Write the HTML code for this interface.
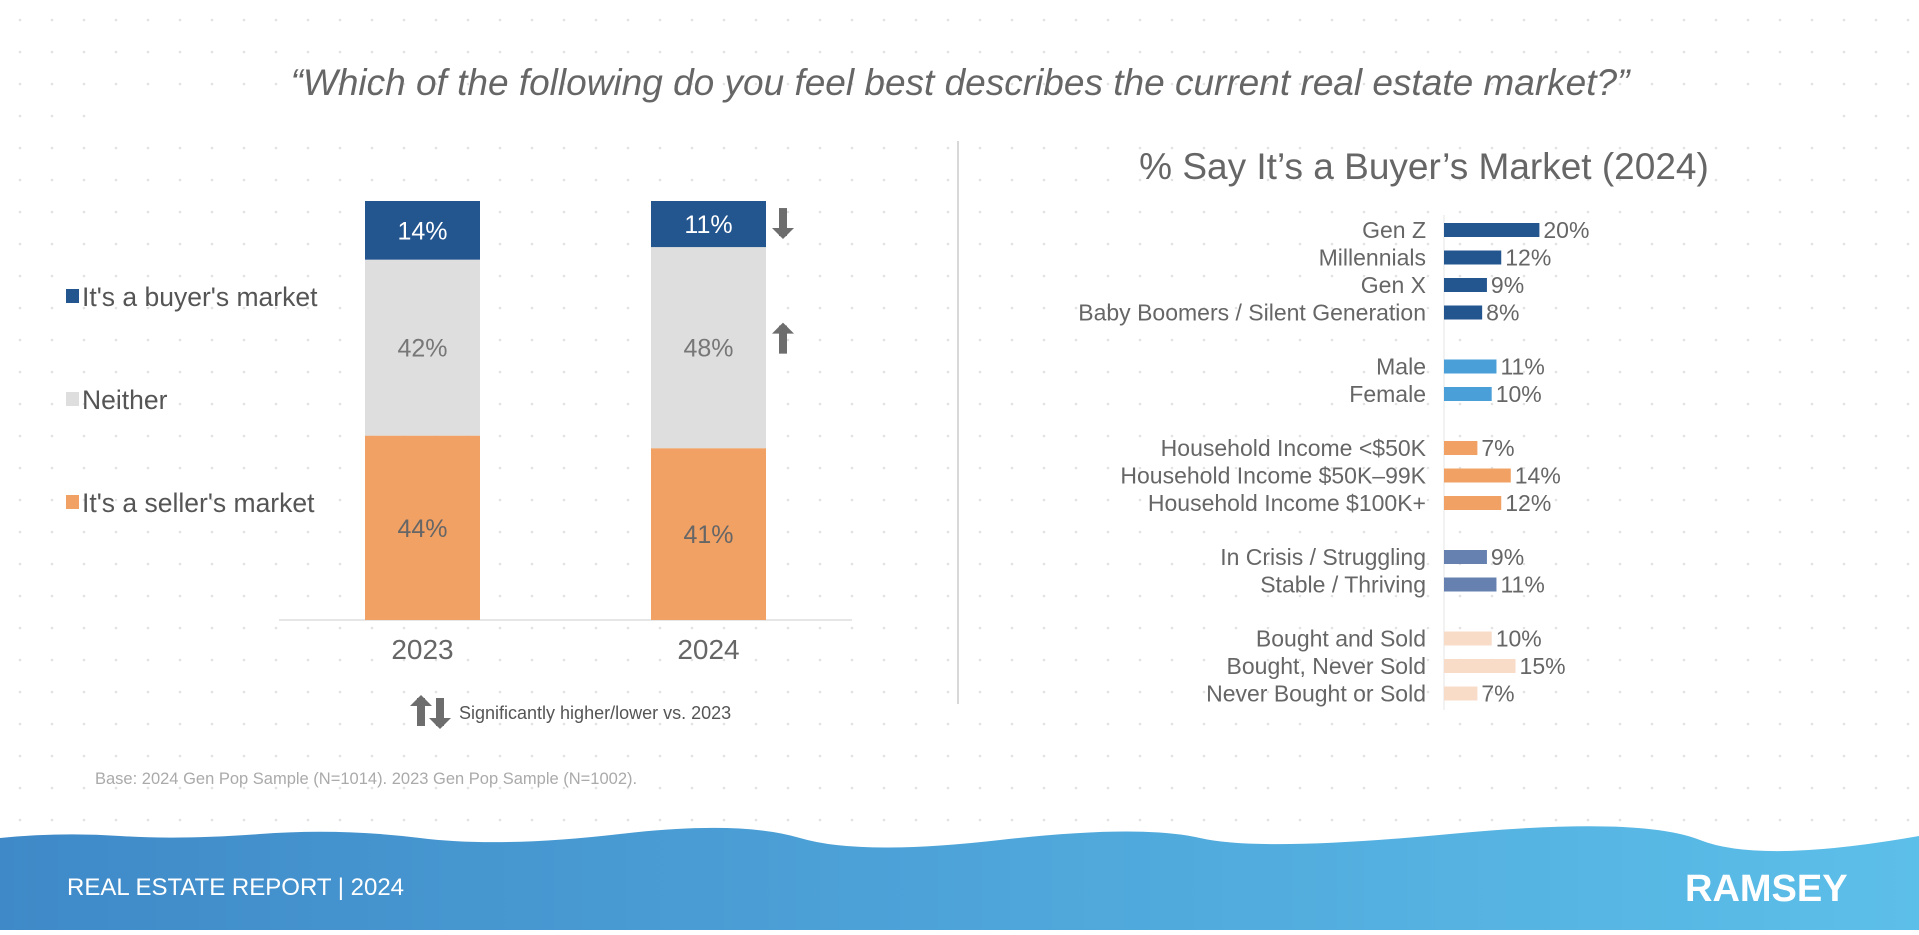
<!DOCTYPE html>
<html><head><meta charset="utf-8">
<style>
html,body{margin:0;padding:0;background:#fff;}
body{width:1919px;height:930px;overflow:hidden;font-family:"Liberation Sans",sans-serif;}
svg text{font-family:"Liberation Sans",sans-serif;}
</style></head>
<body>
<svg id="chart" width="1919" height="930" viewBox="0 0 1919 930">
<defs>
<pattern id="dots" x="0" y="0" width="32" height="32" patternUnits="userSpaceOnUse"><circle cx="20" cy="20" r="1.3" fill="#e2e2e2"/></pattern>
<linearGradient id="foot" x1="0" x2="1" y1="0" y2="0"><stop offset="0" stop-color="#3f89c8"/><stop offset="1" stop-color="#5cbfe9"/></linearGradient>
</defs>
<rect x="0" y="0" width="1919" height="830" fill="url(#dots)"/>
<rect x="90" y="100" width="1750" height="20" fill="#fff"/>
<text x="960" y="95" text-anchor="middle" font-size="37" font-style="italic" fill="#666">“Which of the following do you feel best describes the current real estate market?”</text>
<line x1="958" y1="141" x2="958" y2="704" stroke="#d8d8d8" stroke-width="2"/>
<g id="left"></g>
<g id="right"></g>
<text x="95" y="784" font-size="16.5" fill="#aaa">Base: 2024 Gen Pop Sample (N=1014). 2023 Gen Pop Sample (N=1002).</text>
<path d="M0 838 Q60 832 120 836 T260 834 T420 838 T620 834 T800 838 T1000 840 T1200 838 T1450 834 T1700 840 T1919 836 L1919 930 L0 930 Z" fill="url(#foot)"/>
<text x="67" y="895" font-size="24" fill="#fff">REAL ESTATE REPORT | 2024</text>
<text x="1685" y="901" font-size="38" font-weight="bold" fill="#fff">RAMSEY</text>
</svg>
<script>
const years = ["2023","2024"];
const buyer = [14, 11];
const neither = [42, 48];
const seller = [44, 41];

const groups = ["Gen Z","Millennials","Gen X","Baby Boomers / Silent Generation","Male","Female","Household Income <$50K","Household Income $50K–99K","Household Income $100K+","In Crisis / Struggling","Stable / Thriving","Bought and Sold","Bought, Never Sold","Never Bought or Sold"];
const groupValues = [20,12,9,8,11,10,7,14,12,9,11,10,15,7];
const groupCat = [0,0,0,0,1,1,2,2,2,3,3,4,4,4];

const NS="http://www.w3.org/2000/svg";
function mk(tag, attrs, parent){const e=document.createElementNS(NS,tag);for(const k in attrs)e.setAttribute(k,attrs[k]);parent.appendChild(e);return e;}

const L=document.getElementById('left');
const base=620, top0=201, yS=v=>v*(base-top0)/100;
const xs=i=>365+i*286, bw=115;
mk('line',{x1:279,y1:base,x2:852,y2:base,stroke:'#e6e6e6','stroke-width':2},L);
const segs=[{d:seller,c:'#f2a164',t:'#666',n:'seller'},{d:neither,c:'#dedede',t:'#777',n:'neither'},{d:buyer,c:'#23558f',t:'#fff',n:'buyer'}];
years.forEach((y,i)=>{
  let cum=0;
  segs.forEach(s=>{
    const v=s.d[i];const h=yS(v);const yTop=base-yS(cum)-h;
    const r=mk('rect',{x:xs(i),y:yTop,width:bw,height:h,fill:s.c},L);
    
    
    const t=mk('text',{x:xs(i)+bw/2,y:yTop+h/2+9,'text-anchor':'middle','font-size':25,fill:s.t},L);
    t.textContent=v+'%';
    
    
    cum+=v;
  });
  const yl=mk('text',{x:xs(i)+bw/2,y:659,'text-anchor':'middle','font-size':28,fill:'#666'},L);
  yl.textContent=y;
  
  
});
function arrow(x,yc,dir,name){
  const g=mk('g',{fill:'#6d6d6d'},L);
  
  
  const s=dir==='up'?-1:1;
  mk('rect',{x:x-4,y:yc-14,width:8,height:28},g);
  mk('polygon',{points:`${x-11},${yc+s*6} ${x+11},${yc+s*6} ${x},${yc+s*17}`},g);
}
{const i=1;let yb=base-yS(seller[i])-yS(neither[i])-yS(buyer[i])/2;arrow(783,yb-2,'down','arrow-buyer-2024');
 let yn=base-yS(seller[i])-yS(neither[i])/2;arrow(783,yn-8,'up','arrow-neither-2024');}
arrow(421,712,'up','legend-arrow-up');arrow(440,712,'down','legend-arrow-down');
const sn=mk('text',{x:459,y:719,'font-size':18,fill:'#555'},L);sn.textContent='Significantly higher/lower vs. 2023';

const leg=[["It's a buyer's market",'#23558f',297],["Neither",'#dedede',400],["It's a seller's market",'#f2a164',503]];
leg.forEach((l,i)=>{
  const g=mk('g',{},L);
  
  
  mk('rect',{x:66,y:l[2]-8,width:13,height:14,fill:l[1]},g);
  const t=mk('text',{x:82,y:l[2]+9,'font-size':26.5,fill:'#555'},g);t.textContent=l[0];
});

const R=document.getElementById('right');
const rt=mk('text',{x:1424,y:179,'text-anchor':'middle','font-size':37,fill:'#666'},R);
rt.textContent='% Say It’s a Buyer’s Market (2024)';

const colors=['#23558f','#4a9fd8','#f2a164','#6680b0','#f8dcc8'];
const x0=1444, pxPer=4.77;
mk('line',{x1:x0,y1:215,x2:x0,y2:710,stroke:'#eee','stroke-width':1.5},R);
let y=230;const rowY=[];
groups.forEach((g,i)=>{ if(i>0){y+= groupCat[i]!==groupCat[i-1]?54:27.5;} rowY.push(y);});
groups.forEach((g,i)=>{
  const yy=rowY[i], v=groupValues[i], w=v*pxPer;
  const b=mk('rect',{x:x0,y:yy-7,width:w,height:14,fill:colors[groupCat[i]]},R);
  
  
  const lt=mk('text',{x:1426,y:yy+8,'text-anchor':'end','font-size':23,fill:'#666'},R);
  lt.textContent=g;
  
  
  const vt=mk('text',{x:x0+w+4,y:yy+8,'font-size':23,fill:'#666'},R);
  vt.textContent=v+'%';
  
  
});
</script>
</body></html>
